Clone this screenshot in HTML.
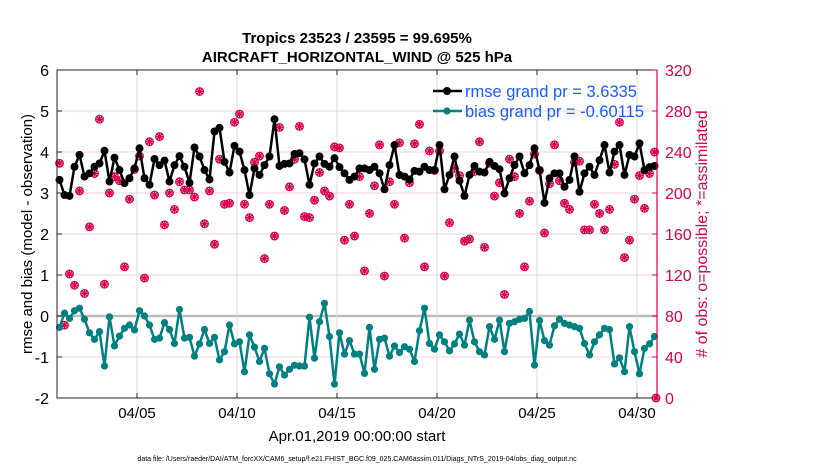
<!DOCTYPE html>
<html><head><meta charset="utf-8"><style>
body{margin:0;background:#fff;font-family:"Liberation Sans",sans-serif}
svg text{font-family:"Liberation Sans",sans-serif}
</style></head><body>
<svg id="chart" width="830" height="470" xmlns="http://www.w3.org/2000/svg">
<rect width="830" height="470" fill="#fff"/>
<g id="grid"></g>
<g id="marks"></g>
<g id="axes"></g>
<text x="357" y="43" text-anchor="middle" font-size="15" font-weight="bold">Tropics 23523 / 23595 = 99.695%</text>
<text x="357" y="62" text-anchor="middle" font-size="15" font-weight="bold">AIRCRAFT_HORIZONTAL_WIND @ 525 hPa</text>
<text transform="translate(32,234) rotate(-90)" text-anchor="middle" font-size="15">rmse and bias (model - observation)</text>
<text transform="translate(707,234) rotate(-90)" text-anchor="middle" font-size="16" fill="#d6004f"># of obs: o=possible; *=assimilated</text>
<text x="357" y="441" text-anchor="middle" font-size="15">Apr.01,2019 00:00:00 start</text>
<text x="357" y="461" text-anchor="middle" font-size="7">data file: /Users/raeder/DAI/ATM_forcXX/CAM6_setup/f.e21.FHIST_BGC.f09_025.CAM6assim.011/Diags_NTrS_2019-04/obs_diag_output.nc</text>
<g>
<line x1="433" y1="91" x2="462" y2="91" stroke="#000" stroke-width="2.5"/><circle cx="447" cy="91" r="4" fill="#000"/>
<text x="465" y="97" font-size="16.5" fill="#1a5cff">rmse grand pr = 3.6335</text>
<line x1="433" y1="111" x2="462" y2="111" stroke="#008080" stroke-width="2.5"/><circle cx="447" cy="111" r="3.6" fill="#008080"/>
<text x="465" y="117" font-size="16.5" fill="#1a5cff">bias grand pr = -0.60115</text>
</g>
</svg>
<script>
const rmse=[3.32,2.95,2.93,3.64,3.93,3.40,3.48,3.64,3.72,4.03,3.28,3.86,3.56,3.24,3.36,3.60,4.09,3.36,3.20,3.83,3.68,3.79,3.28,3.68,3.90,3.64,3.25,4.11,3.89,3.56,3.33,4.50,4.59,3.76,3.50,4.15,4.01,3.56,2.95,3.60,3.44,3.68,3.89,4.80,
3.66,3.71,3.72,3.95,3.97,3.82,3.20,3.72,3.89,3.71,3.64,3.85,3.63,3.48,3.32,3.40,3.60,3.60,3.56,3.64,3.48,3.09,3.68,4.17,3.44,3.40,3.33,3.54,3.52,3.64,3.56,3.56,4.17,3.09,3.44,3.89,3.30,2.93,3.44,3.66,3.52,3.50,3.76,3.66,3.58,2.99,
3.36,3.68,3.89,3.48,3.68,4.09,3.56,2.76,3.36,3.48,3.48,3.15,3.32,3.89,3.03,3.48,3.64,3.44,3.80,4.17,3.50,4.01,4.17,3.44,3.93,3.89,4.21,3.56,3.63,3.66];
const bias=[-0.28,0.07,-0.06,0.13,0.19,-0.08,-0.41,-0.57,-0.38,-1.22,-0.02,-0.73,-0.49,-0.30,-0.22,-0.34,0.13,0.00,-0.22,-0.57,-0.54,-0.16,-0.33,-0.67,0.16,-0.54,-0.52,-0.98,-0.68,-0.33,-0.67,-0.52,-1.07,-0.87,-0.22,-0.68,-0.63,-1.36,-0.46,-0.76,-1.11,-0.79,-1.41,-1.66,
-1.24,-1.44,-1.30,-1.20,-1.22,-1.22,-0.03,-1.03,-0.14,0.31,-0.50,-1.66,-0.41,-0.93,-0.60,-0.93,-0.93,-1.40,-0.28,-1.30,-0.57,-0.54,-0.98,-0.73,-0.89,-0.75,-0.81,-1.11,-0.36,0.19,-0.67,-0.81,-0.46,-0.63,-0.85,-0.68,-0.44,-0.71,-0.10,-0.63,-0.87,-0.95,-0.26,-0.57,-0.10,-0.87,
-0.18,-0.14,-0.08,-0.06,0.11,-1.20,-0.11,-0.60,-0.71,-0.24,-0.08,-0.18,-0.22,-0.26,-0.30,-0.67,-0.95,-0.63,-0.46,-0.30,-0.33,-1.17,-1.02,-1.36,-0.26,-0.87,-1.41,-0.79,-0.68,-0.50];
const obsCount=[229,71,121,110,202,102,167,219,272,111,200,216,212,128,194,223,236,117,250,198,255,169,200,184,211,203,203,196,299,170,202,150,233,189,190,269,277,189,176,230,236,136,189,158,264,
183,206,233,265,177,176,193,220,202,197,245,244,154,189,158,216,124,180,207,247,119,211,189,249,156,210,248,267,128,241,222,241,119,171,224,217,153,155,221,250,147,229,197,210,101,
233,216,180,128,192,238,222,161,209,247,212,190,184,230,231,164,164,189,180,164,184,228,269,137,154,194,217,185,219,240,0];
const leftTicks=[6,5,4,3,2,1,0,-1,-2];
const rightTicks=[0,40,80,120,160,200,240,280,320];
const dateTicks=[{d:4,l:"04/05"},{d:9,l:"04/10"},{d:14,l:"04/15"},{d:19,l:"04/20"},{d:24,l:"04/25"},{d:29,l:"04/30"}];
const X0=57,X1=657,Y0=70,Y1=398;
const xs=d=>X0+d*(X1-X0)/30;
const ys=v=>Y0+(6-v)*(Y1-Y0)/8;
const yr=c=>Y1-c*(Y1-Y0)/320;
const tOf=i=>i===120?29.95:0.125+0.25*i;
const NS="http://www.w3.org/2000/svg";
function mk(parent,tag,attrs){const e=document.createElementNS(NS,tag);for(const k in attrs)e.setAttribute(k,attrs[k]);parent.appendChild(e);return e;}
const G=document.getElementById('grid'),M=document.getElementById('marks'),A=document.getElementById('axes');
leftTicks.forEach(v=>{const l=mk(G,'line',{x1:X0,x2:X1,y1:ys(v),y2:ys(v),stroke:v===0?'#bbb':'#f3d0de','stroke-width':v===0?2.5:1});

});
dateTicks.forEach(t=>{const l=mk(G,'line',{x1:xs(t.d),x2:xs(t.d),y1:Y0,y2:Y1,stroke:'#ddd','stroke-width':1});

});
obsCount.forEach((c,i)=>{const g=mk(M,'g',{});


const x=xs(tOf(i)),y=yr(c);
mk(g,'circle',{cx:x,cy:y,r:3.8,fill:'none',stroke:'#d6004f','stroke-width':1.3});
mk(g,'path',{d:`M${x-3.5},${y}h7M${x},${y-3.5}v7M${x-2.5},${y-2.5}l5,5M${x-2.5},${y+2.5}l5,-5`,stroke:'#d6004f','stroke-width':1.3});});
function series(arr,color,name,r){
let d='';arr.forEach((v,i)=>{d+=(i?'L':'M')+xs(tOf(i)).toFixed(1)+','+ys(v).toFixed(1);});
const p=mk(M,'path',{d:d,fill:'none',stroke:color,'stroke-width':2.5,'stroke-linejoin':'round'});


arr.forEach((v,i)=>{const c=mk(M,'circle',{cx:xs(tOf(i)),cy:ys(v),r:r,fill:color});

});}
series(bias,'#008080','bias',3.6);
series(rmse,'#000','rmse',4);
mk(A,'rect',{x:X0,y:Y0,width:X1-X0,height:Y1-Y0,fill:'none',stroke:'#222','stroke-width':1});
mk(A,'line',{x1:X1,x2:X1,y1:Y0,y2:Y1,stroke:'#d6004f','stroke-width':1.2});
leftTicks.forEach(v=>{mk(A,'line',{x1:X0,x2:X0+5,y1:ys(v),y2:ys(v),stroke:'#222'});
const t=mk(A,'text',{x:X0-8,y:ys(v)+6,'text-anchor':'end','font-size':16});t.textContent=v;

});
rightTicks.forEach(v=>{mk(A,'line',{x1:X1-5,x2:X1,y1:yr(v),y2:yr(v),stroke:'#d6004f'});
const t=mk(A,'text',{x:X1+8,y:yr(v)+6,'font-size':16,fill:'#d6004f'});t.textContent=v;

});
dateTicks.forEach(tk=>{mk(A,'line',{x1:xs(tk.d),x2:xs(tk.d),y1:Y1,y2:Y1-5,stroke:'#222'});mk(A,'line',{x1:xs(tk.d),x2:xs(tk.d),y1:Y0,y2:Y0+5,stroke:'#222'});
const t=mk(A,'text',{x:xs(tk.d),y:Y1+20,'text-anchor':'middle','font-size':15});t.textContent=tk.l;

});
</script>
</body></html>
